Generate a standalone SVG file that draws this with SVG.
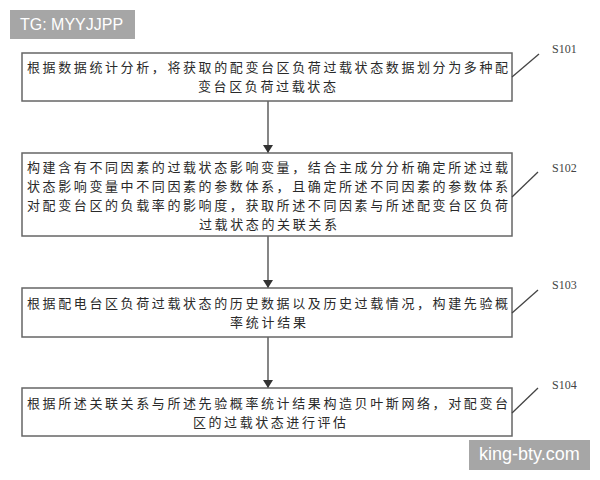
<svg xmlns="http://www.w3.org/2000/svg" width="600" height="480" viewBox="0 0 600 480">
<style>
.box{fill:#fff;stroke:#666;stroke-width:1.5}
.t{font-family:"Noto Sans CJK SC","Noto Sans CJK TC",sans-serif;font-size:13px;fill:#2a2a2a}
.lab{font-family:"Liberation Serif",serif;font-size:12px;fill:#444}
.lead{stroke:#444;stroke-width:1.3;fill:none}
.conn{stroke:#444;stroke-width:1.3;fill:none}
.wm{fill:#a6a6a6}
.wmt{font-family:"Liberation Sans",Arial,sans-serif;fill:#fff}
</style>
<defs>
<marker id="ah" viewBox="0 0 8 10" refX="8" refY="5" markerWidth="8" markerHeight="10" markerUnits="userSpaceOnUse" orient="auto">
<path d="M0,0 L8,5 L0,10 Z" fill="#333" transform="rotate(0)"/>
</marker>
</defs>
<rect width="600" height="480" fill="#fff"/>
<g id="watermark-top">
<rect class="wm" x="10" y="10" width="125" height="29"/>
<text class="wmt" x="20" y="30" font-size="16">TG: MYYJJPP</text>
</g>
<g id="connectors">
<line class="conn" x1="268" y1="101" x2="268" y2="153" marker-end="url(#ah)"/>
<line class="conn" x1="268" y1="236" x2="268" y2="288" marker-end="url(#ah)"/>
<line class="conn" x1="268" y1="337" x2="268" y2="388" marker-end="url(#ah)"/>
</g>
<g id="S101">
<rect class="box" x="22" y="53" width="490" height="48"/>
<text class="t" x="27" y="72" textLength="481" lengthAdjust="spacing">根据数据统计分析，将获取的配变台区负荷过载状态数据划分为多种配</text>
<text class="t" x="198" y="91" textLength="138" lengthAdjust="spacing">变台区负荷过载状态</text>
<line class="lead" x1="512" y1="77" x2="539" y2="54"/>
<text class="lab" x="552" y="53">S101</text>
</g>
<g id="S102">
<rect class="box" x="22" y="153" width="490" height="83"/>
<text class="t" x="27" y="172" textLength="481" lengthAdjust="spacing">构建含有不同因素的过载状态影响变量，结合主成分分析确定所述过载</text>
<text class="t" x="27" y="191" textLength="481" lengthAdjust="spacing">状态影响变量中不同因素的参数体系，且确定所述不同因素的参数体系</text>
<text class="t" x="27" y="210" textLength="481" lengthAdjust="spacing">对配变台区的负载率的影响度，获取所述不同因素与所述配变台区负荷</text>
<text class="t" x="199" y="229" textLength="138" lengthAdjust="spacing">过载状态的关联关系</text>
<line class="lead" x1="512" y1="197" x2="538" y2="172"/>
<text class="lab" x="552" y="172">S102</text>
</g>
<g id="S103">
<rect class="box" x="22" y="288" width="490" height="49"/>
<text class="t" x="27" y="308" textLength="481" lengthAdjust="spacing">根据配电台区负荷过载状态的历史数据以及历史过载情况，构建先验概</text>
<text class="t" x="230" y="327" textLength="76" lengthAdjust="spacing">率统计结果</text>
<line class="lead" x1="512" y1="313" x2="538" y2="290"/>
<text class="lab" x="552" y="289">S103</text>
</g>
<g id="S104">
<rect class="box" x="22" y="388" width="490" height="48"/>
<text class="t" x="27" y="408" textLength="481" lengthAdjust="spacing">根据所述关联关系与所述先验概率统计结果构造贝叶斯网络，对配变台</text>
<text class="t" x="193" y="427" textLength="153" lengthAdjust="spacing">区的过载状态进行评估</text>
<line class="lead" x1="512" y1="413" x2="538" y2="388"/>
<text class="lab" x="552" y="389">S104</text>
</g>
<g id="watermark-bottom">
<rect class="wm" x="469" y="440" width="121" height="30"/>
<text class="wmt" x="479" y="460" font-size="18">king-bty.com</text>
</g>
</svg>
